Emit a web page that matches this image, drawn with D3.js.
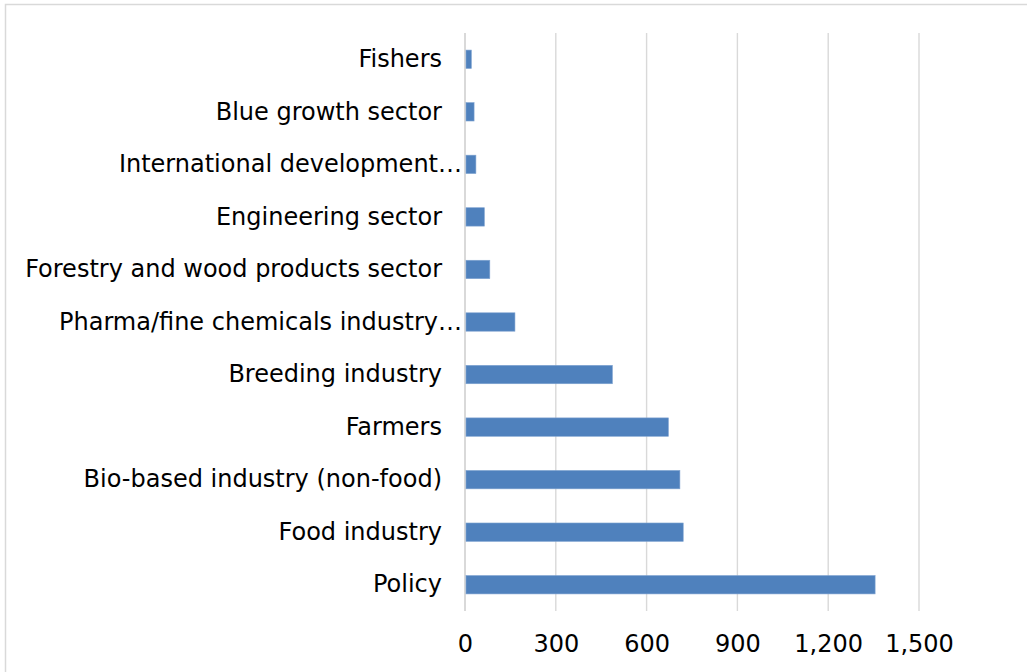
<!DOCTYPE html>
<html>
<head>
<meta charset="utf-8">
<script src="https://cdn.jsdelivr.net/npm/d3@7"></script>
<style>
  html, body { margin: 0; padding: 0; background: #fff; }
  svg { display: block; }
</style>
</head>
<body>
<svg id="chart" width="1027" height="672"></svg>
<script>
// Stakeholder groups (top to bottom) and their counts
const categories = [
  "Fishers",
  "Blue growth sector",
  "International development…",
  "Engineering sector",
  "Forestry and wood products sector",
  "Pharma/fine chemicals industry…",
  "Breeding industry",
  "Farmers",
  "Bio-based industry (non-food)",
  "Food industry",
  "Policy"
];
const values = [21, 30, 36, 64, 82, 165, 487, 672, 710, 721, 1355];
const tickValues = [0, 300, 600, 900, 1200, 1500];

const svg = d3.select("#chart");
const font = "'DejaVu Sans', Verdana, sans-serif";

// outer chart frame
svg.append("rect")
  .attr("x", 5.5).attr("y", 4.5)
  .attr("width", 1040).attr("height", 700)
  .attr("fill", "#fff")
  .attr("stroke", "#d9d9d9").attr("stroke-width", 1.5);

const x = d3.scaleLinear().domain([0, 1500]).range([465, 919]);
const y = d3.scaleBand().domain(categories).range([33, 611]).paddingInner(0.65).paddingOuter(0.325);

// vertical gridlines
svg.append("g")
  .selectAll("line")
  .data(tickValues)
  .join("line")
  .attr("x1", d => x(d)).attr("x2", d => x(d))
  .attr("y1", 33).attr("y2", 611)
  .attr("stroke", "#d9d9d9")
  .attr("stroke-width", d => d === 0 ? 2 : 1.4);

// bars
svg.append("g")
  .selectAll("rect")
  .data(values)
  .join("rect")
  .attr("x", x(0) + 1)
  .attr("y", (d, i) => y(categories[i]))
  .attr("width", d => x(d) - x(0) - 1)
  .attr("height", y.bandwidth())
  .attr("fill", "#4f81bd")
  .attr("stroke", "#7fa3d1").attr("stroke-width", 0.6);

// category axis; truncated labels run right up to the axis
const yAxis = svg.append("g")
  .attr("transform", "translate(465,0)")
  .call(d3.axisLeft(y).tickSize(0).tickPadding(23));
yAxis.select(".domain").remove();
yAxis.selectAll("text")
  .attr("font-family", font).attr("font-size", 24).attr("fill", "#000")
  .attr("x", d => d.endsWith("…") ? -3 : -23);

// value axis
const xAxis = svg.append("g")
  .attr("transform", "translate(0,611)")
  .call(d3.axisBottom(x).tickValues(tickValues).tickSize(0).tickPadding(24).tickFormat(d3.format(",")));
xAxis.select(".domain").remove();
xAxis.selectAll("text")
  .attr("font-family", font).attr("font-size", 24).attr("fill", "#000");
</script>
</body>
</html>
